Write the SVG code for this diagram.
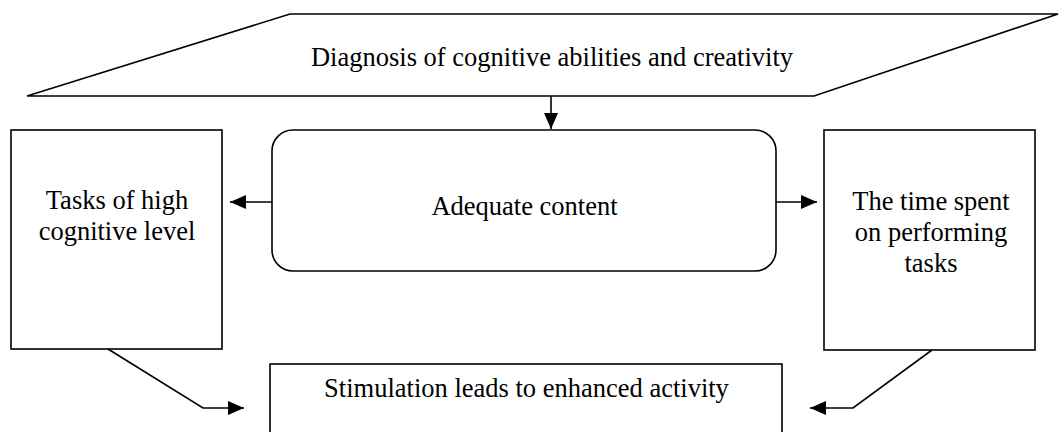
<svg xmlns="http://www.w3.org/2000/svg" width="1061" height="432" viewBox="0 0 1061 432">
  <style>
    .shape { fill: #fff; stroke: #000; stroke-width: 1.6; }
    .conn { fill: none; stroke: #000; stroke-width: 1.6; }
    text { font-family: "Liberation Serif", "Times New Roman", serif; font-size: 26.5px; fill: #000; text-anchor: middle; }
  </style>
  <defs>
    <marker id="arrow" markerUnits="userSpaceOnUse" markerWidth="16" markerHeight="14" refX="16" refY="7" orient="auto">
      <path d="M0,0 L16,7 L0,14 z" fill="#000"/>
    </marker>
  </defs>
  <rect width="1061" height="432" fill="#fff"/>

  <g id="node-diagnosis">
    <polygon class="shape" points="290,14 1058,14 814,96 27,96"/>
    <text x="552" y="66">Diagnosis of cognitive abilities and creativity</text>
  </g>

  <g id="node-content">
    <rect class="shape" x="272" y="130" width="504" height="141" rx="21" ry="21"/>
    <text x="524.5" y="215">Adequate content</text>
  </g>

  <g id="node-tasks">
    <rect class="shape" x="11" y="130" width="211" height="219"/>
    <text x="117" y="209">Tasks of high</text>
    <text x="117" y="240">cognitive level</text>
  </g>

  <g id="node-time">
    <rect class="shape" x="824" y="130" width="211" height="220"/>
    <text x="931" y="210">The time spent</text>
    <text x="931" y="241">on performing</text>
    <text x="931" y="272">tasks</text>
  </g>

  <g id="node-stimulation">
    <rect class="shape" x="270" y="364" width="512" height="80"/>
    <text x="526.5" y="397">Stimulation leads to enhanced activity</text>
  </g>

  <g id="connectors">
    <line class="conn" x1="551" y1="96" x2="551" y2="129" marker-end="url(#arrow)"/>
    <line class="conn" x1="272" y1="202" x2="230" y2="202" marker-end="url(#arrow)"/>
    <line class="conn" x1="776" y1="202" x2="817" y2="202" marker-end="url(#arrow)"/>
    <polyline class="conn" points="108,349 203,408 244,408" marker-end="url(#arrow)"/>
    <polyline class="conn" points="932,350 853,408 810,408" marker-end="url(#arrow)"/>
  </g>
</svg>
